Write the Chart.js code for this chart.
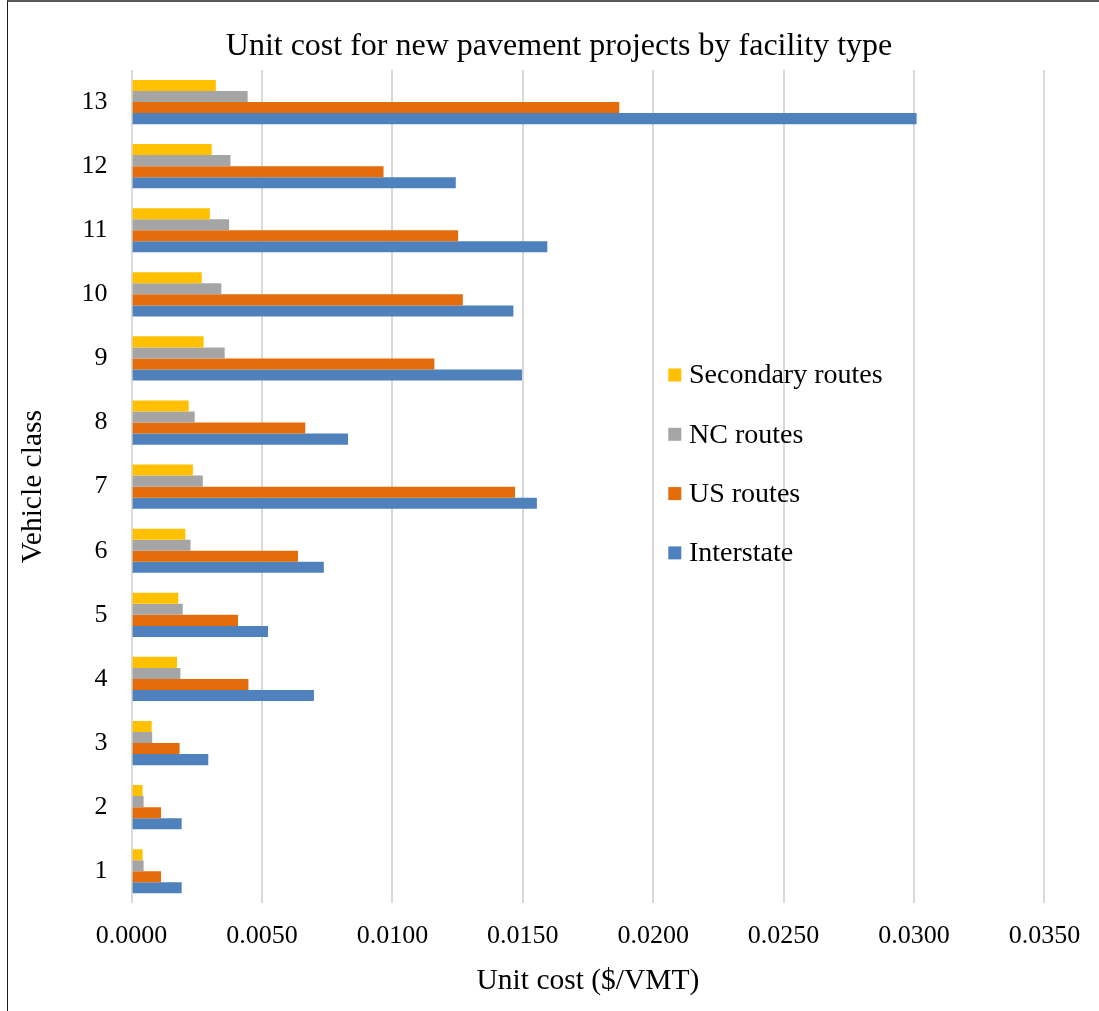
<!DOCTYPE html>
<html>
<head>
<meta charset="utf-8">
<script src="https://cdn.jsdelivr.net/npm/chart.js@4"></script>
<style>
  html, body { margin: 0; padding: 0; width: 1099px; height: 1011px; overflow: hidden; background: #fff; }
  #frame { position: absolute; left: 7px; top: 0px; width: 1200px; height: 1100px;
           border-top: 2px solid #595959; border-left: 1px solid #1a1a1a; box-sizing: border-box; }
  #c { position: absolute; left: 7px; top: 0px; }
</style>
</head>
<body>
<div id="frame"></div>
<canvas id="c" width="1104" height="1011"></canvas>
<script>
const chartTitle = 'Unit cost for new pavement projects by facility type';
const categories = ['1','2','3','4','5','6','7','8','9','10','11','12','13'];
const seriesNames = ['Secondary routes', 'NC routes', 'US routes', 'Interstate'];
const secondary  = [0.00042, 0.00042, 0.00077, 0.00174, 0.00179, 0.00206, 0.00235, 0.00219, 0.00276, 0.00269, 0.00300, 0.00307, 0.00323];
const ncRoutes   = [0.00046, 0.00046, 0.00079, 0.00187, 0.00196, 0.00226, 0.00273, 0.00242, 0.00357, 0.00344, 0.00374, 0.00379, 0.00445];
const usRoutes   = [0.00113, 0.00113, 0.00184, 0.00448, 0.00408, 0.00638, 0.01470, 0.00666, 0.01161, 0.01270, 0.01252, 0.00966, 0.01870];
const interstate = [0.00192, 0.00192, 0.00294, 0.00699, 0.00523, 0.00737, 0.01554, 0.00830, 0.01497, 0.01464, 0.01594, 0.01243, 0.03010];
const xTickValues = [0, 0.005, 0.010, 0.015, 0.020, 0.025, 0.030, 0.035];

const FONT = '"Liberation Serif", "Times New Roman", serif';
const colors = ['#FFC000', '#A5A5A5', '#E46C0A', '#4F81BD'];

const decorPlugin = {
  id: 'decor',
  afterDraw(chart) {
    const ctx = chart.ctx;
    ctx.save();
    // title centred on the full frame
    ctx.font = '32px ' + FONT;
    ctx.fillStyle = '#000';
    ctx.textAlign = 'center';
    ctx.textBaseline = 'middle';
    ctx.fillText(chartTitle, chart.width / 2, 47);
    // legend inside the plot
    ctx.font = '28px ' + FONT;
    ctx.textAlign = 'left';
    chart.data.datasets.forEach((ds, i) => {
      const cy = 375 + i * 59.3;
      ctx.fillStyle = ds.backgroundColor;
      ctx.fillRect(661.3, cy - 6.5, 13, 13);
      ctx.fillStyle = '#000';
      ctx.fillText(ds.label, 682, cy + 1);
    });
    ctx.restore();
  }
};

new Chart(document.getElementById('c'), {
  type: 'bar',
  data: {
    labels: categories,
    datasets: [
      { label: seriesNames[0], data: secondary,  backgroundColor: colors[0] },
      { label: seriesNames[1], data: ncRoutes,   backgroundColor: colors[1] },
      { label: seriesNames[2], data: usRoutes,   backgroundColor: colors[2] },
      { label: seriesNames[3], data: interstate, backgroundColor: colors[3] }
    ]
  },
  options: {
    indexAxis: 'y',
    responsive: false,
    animation: false,
    devicePixelRatio: 1,
    layout: { padding: { left: 0, right: 66.6, top: 70, bottom: 0 } },
    datasets: { bar: { categoryPercentage: 0.69, barPercentage: 1.0 } },
    plugins: {
      legend: { display: false },
      tooltip: { enabled: false },
      title: { display: false }
    },
    scales: {
      x: {
        type: 'linear',
        min: 0,
        max: 0.035,
        afterBuildTicks: (s) => { s.ticks = xTickValues.map(v => ({ value: v })); },
        afterFit: (s) => { s.height = 107.7; },
        grid: { display: true, color: '#d9d9d9', lineWidth: 2, drawTicks: false },
        border: { display: false },
        ticks: {
          color: '#000',
          padding: 17.5,
          font: { family: FONT, size: 26, lineHeight: 1.2 },
          callback: (v) => Number(v).toFixed(4),
          maxRotation: 0
        },
        title: {
          display: true,
          text: 'Unit cost ($/VMT)',
          color: '#000',
          font: { family: FONT, size: 29.5, lineHeight: 1.2 },
          padding: { top: 0, bottom: 12 }
        }
      },
      y: {
        reverse: true,
        afterFit: (s) => { s.width = 124.6; },
        grid: { display: false, drawTicks: false },
        border: { display: false },
        ticks: {
          color: '#000',
          padding: 24,
          font: { family: FONT, size: 26, lineHeight: 1.2 }
        },
        title: {
          display: true,
          text: 'Vehicle class',
          color: '#000',
          font: { family: FONT, size: 29.5, lineHeight: 1.2 },
          padding: { top: 8.3, bottom: 0 }
        }
      }
    }
  },
  plugins: [decorPlugin]
});
</script>
</body>
</html>
